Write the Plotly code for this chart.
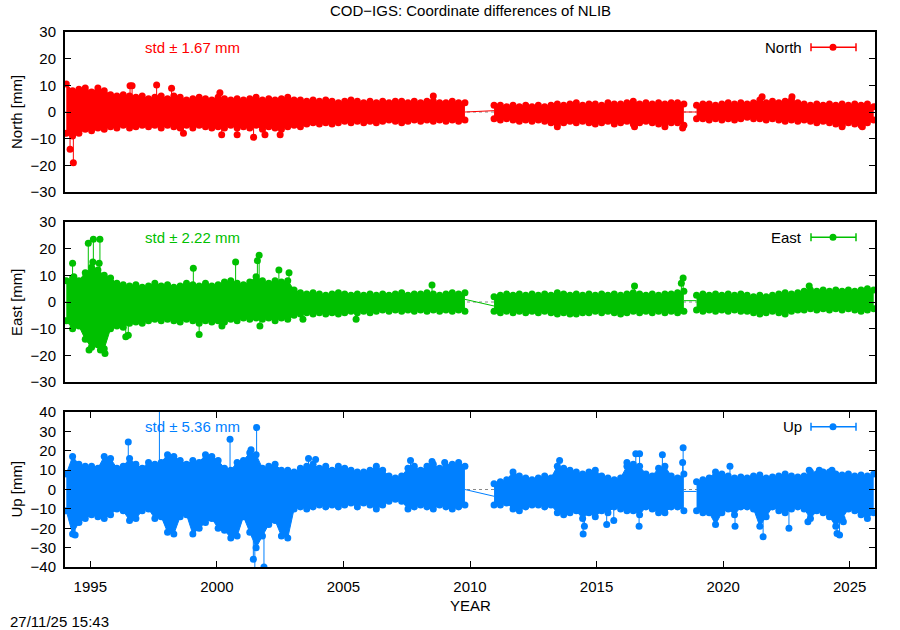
import numpy as np
import plotly.graph_objects as go

# ---------------- data ----------------
YEARS_A = [1994.05, 1994.30, 1994.55, 1994.80, 1995.05, 1995.30, 1995.55, 1995.80,
           1996.05, 1996.30, 1996.55, 1996.80, 1997.05, 1997.30, 1997.55, 1997.80,
           1998.05, 1998.30, 1998.55, 1998.80, 1999.05, 1999.30, 1999.55, 1999.80,
           2000.05, 2000.30, 2000.55, 2000.80, 2001.05, 2001.30, 2001.55, 2001.80,
           2002.05, 2002.30, 2002.55, 2002.80, 2003.05, 2003.30, 2003.55, 2003.80,
           2004.05, 2004.30, 2004.55, 2004.80, 2005.05, 2005.30, 2005.55, 2005.80,
           2006.05, 2006.30, 2006.55, 2006.80, 2007.05, 2007.30, 2007.55, 2007.80,
           2008.05, 2008.30, 2008.55, 2008.80, 2009.05, 2009.30, 2009.55, 2009.80]
YEARS_B = [2010.95, 2011.20, 2011.45, 2011.70, 2011.95, 2012.20, 2012.45, 2012.70,
           2012.95, 2013.20, 2013.45, 2013.70, 2013.95, 2014.20, 2014.45, 2014.70,
           2014.95, 2015.20, 2015.45, 2015.70, 2015.95, 2016.20, 2016.45, 2016.70,
           2016.95, 2017.20, 2017.45, 2017.70, 2017.95, 2018.20, 2018.45]
YEARS_C = [2018.95, 2019.20, 2019.45, 2019.70, 2019.95, 2020.20, 2020.45, 2020.70,
           2020.95, 2021.20, 2021.45, 2021.70, 2021.95, 2022.20, 2022.45, 2022.70,
           2022.95, 2023.20, 2023.45, 2023.70, 2023.95, 2024.20, 2024.45, 2024.70,
           2024.95, 2025.20, 2025.45, 2025.70, 2025.95]

# North [mm]: upper / lower envelope of the daily values
NORTH_HI_A = [10.5, 8, 8.5, 9, 7.5, 9, 8, 6.5, 6, 6.5, 6, 5.5, 6, 5, 5.5, 6,
              5, 6, 5.5, 4.5, 5, 5.5, 5, 4.5, 5.5, 5, 4.5, 5, 4.5, 5, 5.5, 4.5,
              5, 4.5, 5, 5.5, 4.5, 4.5, 4, 4.5, 4, 4.5, 4, 3.5, 4, 4.5, 4, 3.5,
              4, 3.5, 4, 3.5, 4, 4, 3.5, 4, 3.5, 4, 4, 3.5, 3.5, 4, 3.5, 3.5]
NORTH_LO_A = [-8, -9, -8, -6.5, -7, -6, -6.5, -5.5, -6, -5, -6, -5.5, -5, -5.5, -5, -6,
              -5, -5.5, -6, -5, -6, -5, -5.5, -6, -5.5, -6, -5, -6, -5.5, -6, -5, -6.5,
              -5.5, -6, -6.5, -5.5, -5, -5.5, -4.5, -4, -4.5, -4, -4.5, -4, -3.5, -4, -3.5, -4,
              -3.5, -4, -3.5, -3, -3.5, -4, -3.5, -3, -3.5, -3, -3.5, -3, -3.5, -3, -3.5, -3]
NORTH_HI_B = [2.5, 2.5, 2, 2.5, 2, 2.5, 2, 2.5, 2, 2.5, 3, 2.5, 3, 3.5, 2.5, 3,
              3, 2.5, 3.5, 3, 3, 3.5, 4, 3, 3.5, 3, 3.5, 3, 3.5, 3.5, 3]
NORTH_LO_B = [-2.5, -3, -2.5, -3, -3.5, -3, -3.5, -3, -3.5, -4, -4.5, -4, -3.5, -4, -3.5, -4,
              -4.5, -4, -3.5, -4.5, -4, -3.5, -4.5, -4, -3.5, -4, -4.5, -4.5, -4, -4, -5]
NORTH_HI_C = [2.5, 3, 3, 2.5, 3, 3.5, 3, 3.5, 3, 3.5, 4.5, 3.5, 4, 3.5, 4, 4.5,
              3.5, 3, 2.5, 3, 2.5, 3, 2.5, 3, 2.5, 3, 2.5, 3, 2]
NORTH_LO_C = [-2.5, -2.5, -3, -2.5, -3, -2.5, -3, -2.5, -2, -2.5, -2.5, -3, -2.5, -3, -3.5, -3,
              -3.5, -3, -3.5, -4, -3.5, -4, -4.5, -5, -4, -4.5, -5, -4, -3]
NORTH_OUT_T = [1994.20, 1994.33, 1996.57, 1996.65, 1997.62, 1998.21, 2000.12, 2008.55,
               1998.68, 2000.19, 2000.80, 2001.45, 2001.90, 2002.50,
               2013.45, 2016.50, 2017.70, 2018.40, 2021.54, 2022.72, 2024.70, 2025.50]
NORTH_OUT_V = [-14, -19, 9.8, 9.8, 10.1, 8.9, 7.2, 6,
               -8, -8.5, -8.5, -9.5, -8.5, -8.5,
               -5.5, -5.5, -5.5, -6, 5.7, 5.7, -5.5, -5.5]
NORTH_GAP_T = [[2009.80, 2010.95], [2018.45, 2018.95]]
NORTH_GAP_V = [[0, 0.5], [0, 0]]

# East [mm]
EAST_HI_A = [8, 9, 8, 11, 13, 12, 10, 9, 7, 6.5, 6, 6.5, 5.5, 6, 7, 6,
             6.5, 5.5, 6, 7, 6.5, 6, 7, 6, 6.5, 7.5, 8, 7, 6.5, 7.5, 9.5, 8,
             7, 8, 7.5, 8, 4.5, 3.5, 3, 3.5, 3, 2.5, 3, 3.5, 3, 2.5, 3, 2.5,
             3, 2.5, 3, 2.5, 3, 3.5, 2.5, 3, 3, 3.5, 3, 2.5, 3, 3.5, 3, 3.5]
EAST_LO_A = [-7, -10, -9, -14, -17, -16, -17.5, -10, -9, -9.5, -8, -7.5, -8, -7, -6.5, -7,
             -6.5, -7, -7.5, -6.5, -7, -8, -7, -7.5, -7, -7.5, -6.5, -7, -6, -6.5, -6, -6.5,
             -6, -7, -6, -6.5, -5, -4.5, -4, -4.5, -4, -4.5, -4, -4.5, -4, -3.5, -4, -3.5,
             -4, -3.5, -3, -3.5, -3, -3.5, -3, -3.5, -3, -3.5, -3, -3.5, -3, -3.5, -3, -3.5]
EAST_HI_B = [2, 2.5, 3, 2.5, 3, 2.5, 3, 2.5, 3, 2.5, 3.5, 3, 2.5, 3, 2.5, 3,
             2.5, 3, 2.5, 3, 2.5, 3, 3.5, 3, 2.5, 3, 2.5, 3, 3, 3.5, 4]
EAST_LO_B = [-3.5, -4, -3.5, -4, -3.5, -4, -3.5, -4, -3.5, -4, -4.5, -4, -4.5, -4.5, -4, -4,
             -3.5, -4, -3.5, -4, -4.5, -4, -3.5, -4, -3.5, -4, -3.5, -4, -3.5, -4, -3.5]
EAST_HI_C = [2.5, 3, 2.5, 3, 2.5, 3, 2.5, 3, 2.5, 2, 2.5, 2, 2.5, 3, 3.5, 3,
             3.5, 4, 4.5, 4, 4.5, 4, 4.5, 4, 4.5, 4, 4.5, 5, 4.5]
EAST_LO_C = [-3, -3.5, -3, -3.5, -3, -3.5, -3, -3.5, -3.5, -4, -4.5, -4, -3.5, -4, -4.5, -3.5,
             -3, -3, -2.5, -3, -2.5, -3, -2.5, -3, -2.5, -3, -3.5, -3, -2.5]
EAST_OUT_T = [1994.30, 1994.35, 1994.92, 1995.12, 1995.38, 1995.10, 1995.35, 1999.07,
              2000.74, 2001.60, 2001.67, 2002.45, 2002.85,
              1994.95, 1995.40, 1995.58, 1996.40, 1996.50, 1999.30, 2000.20, 2001.70,
              2003.40, 2005.50, 2008.50, 2016.50, 2018.35, 2018.42, 2023.40]
EAST_OUT_V = [14.5, 9.5, 22, 23.5, 23.5, 15, 14.5, 12.7,
              15, 15.5, 17.5, 12, 11,
              -18, -18, -19.3, -13, -12.5, -12.2, -9, -9,
              -6.5, -6.5, 6.4, 6, 7, 9, 6]
EAST_GAP_T = [[2009.80, 2010.95], [2018.45, 2018.95]]
EAST_GAP_V = [[1, -1.5], [0.5, 0.5]]

# Up [mm]
UP_HI_A = [8, 17, 13, 12, 12, 11, 17, 16, 11, 12, 16, 13, 11, 14, 13, 14,
           18, 17, 15, 13, 15, 14, 18, 17, 15, 11, 10, 14, 15, 19, 18, 11,
           12, 13, 10, 10, 9, 11, 12, 13, 11, 12, 10, 12, 11, 10, 9, 9,
           10, 12, 10, 7, 6, 7, 11, 12, 10, 12, 13, 11, 12, 13, 14, 12]
UP_LO_A = [-11, -23, -17, -15, -13, -14, -15, -13, -10, -11, -16, -15, -11, -10, -15, -14,
           -22, -23, -14, -13, -23, -20, -17, -15, -20, -21, -25, -24, -14, -22, -30, -24,
           -18, -16, -24, -25, -10, -9, -10, -9, -8, -9, -8, -9, -8, -7, -9, -7,
           -8, -10, -8, -6, -5, -6, -10, -9, -8, -9, -10, -8, -9, -10, -9, -8]
UP_HI_B = [3, 4, 5, 9, 7, 6, 5, 6, 7, 6, 12, 11, 10, 9, 8, 9,
           10, 7, 6, 5, 6, 12, 13, 12, 8, 7, 11, 12, 7, 6, 8]
UP_LO_B = [-8, -8, -7, -10, -11, -9, -8, -8, -9, -8, -12, -13, -12, -11, -15, -12,
           -14, -11, -12, -9, -10, -11, -11, -13, -9, -10, -12, -12, -9, -9, -11]
UP_HI_C = [4, 5, 6, 9, 8, 7, 6, 6.5, 6, 7, 7.5, 6, 6.5, 7, 8, 7,
           6.5, 7, 9, 8, 9, 9, 8, 7.5, 8, 7, 7.5, 7, 8]
UP_LO_C = [-11, -12, -12, -18, -12, -10, -13, -9, -9, -10, -19, -14, -9, -11, -12, -10,
           -9, -10, -15, -11, -12, -14, -19, -15, -10, -11, -13, -15, -12]
UP_OUT_T = [1996.50, 1997.73, 2000.52, 2001.57, 2001.35, 2003.62, 2003.90, 2007.65, 2008.50, 2009.00,
            1994.40, 2001.44, 2001.50, 2001.86,
            2013.54, 2016.20, 2016.55, 2016.70, 2017.60, 2018.42, 2018.40,
            2014.47, 2014.52, 2015.40, 2015.68, 2016.68,
            2020.27, 2023.40, 2023.80, 2024.30,
            2020.47, 2021.58, 2022.60, 2023.35, 2024.50, 2024.60, 2024.75]
UP_OUT_V = [24.5, 48, 26, 32, 20.5, 16, 15.5, 15, 14.5, 14,
            -23.5, -36, -45, -40,
            15, 14, 18.5, 18.5, 18, 21.5, 14,
            -23, -19, -18, -16, -19,
            12, 10, 10, 10,
            -19, -24.4, -20, -16.6, -22.7, -23.5, -16.6]
UP_GAP_T = [[2009.80, 2010.95], [2018.45, 2018.95]]
UP_GAP_V = [[0, -3.5], [-1, -1]]

SERIES = ["North", "East", "Up"]
STD_TEXT = ["std \u00b1 1.67 mm", "std \u00b1 2.22 mm", "std \u00b1 5.36 mm"]
X_TICKS = [1995, 2000, 2005, 2010, 2015, 2020, 2025]
Y_TICKS_NE = [-30, -20, -10, 0, 10, 20, 30]
Y_TICKS_UP = [-40, -30, -20, -10, 0, 10, 20, 30, 40]

# ---------------- figure ----------------
COLORS = ["#ff0000", "#00c000", "#0080ff"]
FONT = "Liberation Sans, Arial, Helvetica, sans-serif"
FS = 15

data = [
    dict(hi=[NORTH_HI_A, NORTH_HI_B, NORTH_HI_C], lo=[NORTH_LO_A, NORTH_LO_B, NORTH_LO_C],
         ot=NORTH_OUT_T, ov=NORTH_OUT_V, gt=NORTH_GAP_T, gv=NORTH_GAP_V, ticks=Y_TICKS_NE),
    dict(hi=[EAST_HI_A, EAST_HI_B, EAST_HI_C], lo=[EAST_LO_A, EAST_LO_B, EAST_LO_C],
         ot=EAST_OUT_T, ov=EAST_OUT_V, gt=EAST_GAP_T, gv=EAST_GAP_V, ticks=Y_TICKS_NE),
    dict(hi=[UP_HI_A, UP_HI_B, UP_HI_C], lo=[UP_LO_A, UP_LO_B, UP_LO_C],
         ot=UP_OUT_T, ov=UP_OUT_V, gt=UP_GAP_T, gv=UP_GAP_V, ticks=Y_TICKS_UP),
]
years = [YEARS_A, YEARS_B, YEARS_C]

# plot-area geometry (pixels)
W, H = 900, 630
L, R, T, B = 65, 25, 32, 63
ph = H - T - B
panel_px = [(32, 192), (222, 382), (412, 567)]
domains = [[(H - B - b) / ph, (H - B - t) / ph] for (t, b) in panel_px]

fig = go.Figure()
for i, (name, col, d) in enumerate(zip(SERIES, COLORS, data)):
    xa = "x" if i == 0 else f"x{i+1}"
    ya = "y" if i == 0 else f"y{i+1}"
    all_t = np.concatenate([np.array(y) for y in years])
    all_hi = np.concatenate([np.array(h) for h in d["hi"]])
    all_lo = np.concatenate([np.array(l) for l in d["lo"]])

    # gap connectors
    for gt, gv in zip(d["gt"], d["gv"]):
        fig.add_trace(go.Scatter(x=gt, y=gv, mode="lines", line=dict(color=col, width=1),
                                 xaxis=xa, yaxis=ya, showlegend=False, hoverinfo="skip"))
    # outlier spikes
    sx, sy = [], []
    for t, v in zip(d["ot"], d["ov"]):
        base = np.interp(t, all_t, all_hi if v > 0 else all_lo)
        sx += [t, t, None]
        sy += [base, v, None]
    fig.add_trace(go.Scatter(x=sx, y=sy, mode="lines", line=dict(color=col, width=1),
                             xaxis=xa, yaxis=ya, showlegend=False, hoverinfo="skip"))
    fig.add_trace(go.Scatter(x=d["ot"], y=d["ov"], mode="markers",
                             marker=dict(color=col, size=7, symbol="circle"),
                             xaxis=xa, yaxis=ya, showlegend=False, hoverinfo="skip"))
    # dense band of daily solutions
    for yrs, lo, hi in zip(years, d["lo"], d["hi"]):
        fig.add_trace(go.Scatter(x=yrs, y=lo, mode="lines+markers",
                                 line=dict(color=col, width=1), marker=dict(color=col, size=7),
                                 xaxis=xa, yaxis=ya, showlegend=False, hoverinfo="skip"))
        fig.add_trace(go.Scatter(x=yrs, y=hi, mode="lines+markers", fill="tonexty",
                                 fillcolor=col,
                                 line=dict(color=col, width=1), marker=dict(color=col, size=7),
                                 xaxis=xa, yaxis=ya, showlegend=False, hoverinfo="skip"))

    # zero reference line (dotted, below data)
    fig.add_shape(type="line", xref=f"{xa} domain", yref=ya, x0=0, x1=1, y0=0, y1=0,
                  line=dict(color="#888888", width=1, dash="dot"), layer="below")

    # axes
    yt = d["ticks"]
    axy = dict(domain=domains[i], range=[yt[0], yt[-1]], tickvals=yt, ticks="inside",
               ticklen=6, tickcolor="#000000", showline=True, linecolor="#000000",
               linewidth=2, mirror="ticks", showgrid=False, zeroline=False,
               tickfont=dict(family=FONT, size=FS, color="#000000"),
               anchor=xa, ticklabelstandoff=4)
    axx = dict(domain=[0, 1], range=[1994, 2026], showline=True, linecolor="#000000",
               linewidth=2, mirror=True, showgrid=False, zeroline=False, anchor=ya,
               tickfont=dict(family=FONT, size=FS, color="#000000"))
    if i == 2:
        axx.update(tickvals=X_TICKS, ticks="inside", ticklen=6, tickcolor="#000000",
                   mirror="ticks", ticklabelstandoff=5)
    else:
        axx.update(showticklabels=False, ticks="")
    fig.layout["yaxis" if i == 0 else f"yaxis{i+1}"] = axy
    fig.layout["xaxis" if i == 0 else f"xaxis{i+1}"] = axx

    # std text and legend sample
    ly = 0.905
    fig.add_annotation(xref=f"{xa} domain", yref=f"{ya} domain", x=0.157, y=ly,
                       text=STD_TEXT[i], showarrow=False, xanchor="center", yanchor="middle",
                       font=dict(family=FONT, size=FS, color=col))
    fig.add_annotation(xref=f"{xa} domain", yref=f"{ya} domain", x=(804 - L) / 810, y=ly,
                       text=name, showarrow=False, xanchor="right", yanchor="middle",
                       font=dict(family=FONT, size=FS, color="#000000"))
    x0, x1, xm = (811 - L) / 810, (856 - L) / 810, (833 - L) / 810
    fig.add_shape(type="line", xref=f"{xa} domain", yref=f"{ya} domain",
                  x0=x0, x1=x1, y0=ly, y1=ly, line=dict(color=col, width=1.5))
    for xc in (x0, x1):
        fig.add_shape(type="line", xref=f"{xa} domain", yref=f"{ya} domain",
                      xsizemode="pixel", ysizemode="pixel", xanchor=xc, yanchor=ly,
                      x0=0, x1=0, y0=-4, y1=4, line=dict(color=col, width=1.5))
    fig.add_shape(type="circle", xref=f"{xa} domain", yref=f"{ya} domain",
                  xsizemode="pixel", ysizemode="pixel", xanchor=xm, yanchor=ly,
                  x0=-3.5, x1=3.5, y0=-3.5, y1=3.5, fillcolor=col, line=dict(color=col, width=0))

    # y axis title
    pc = (panel_px[i][0] + panel_px[i][1]) / 2
    fig.add_annotation(xref="paper", yref="paper", x=(16 - L) / 810, y=(H - B - pc) / ph,
                       text=f"{name} [mm]", textangle=-90, showarrow=False,
                       xanchor="center", yanchor="middle",
                       font=dict(family=FONT, size=FS, color="#000000"))

# title, x-axis label, time stamp
fig.add_annotation(xref="paper", yref="paper", x=0.5, y=(H - B - 11) / ph,
                   text="COD\u2212IGS: Coordinate differences of NLIB", showarrow=False,
                   xanchor="center", yanchor="middle",
                   font=dict(family=FONT, size=FS, color="#000000"))
fig.add_annotation(xref="paper", yref="paper", x=0.5, y=(H - B - 605) / ph,
                   text="YEAR", showarrow=False, xanchor="center", yanchor="middle",
                   font=dict(family=FONT, size=FS, color="#000000"))
fig.add_annotation(xref="paper", yref="paper", x=(8 - L) / 810, y=(H - B - 621) / ph,
                   text="27/11/25 15:43", showarrow=False, xanchor="left", yanchor="middle",
                   font=dict(family=FONT, size=FS, color="#000000"))

fig.update_layout(width=W, height=H, margin=dict(l=L, r=R, t=T, b=B, autoexpand=False),
                  paper_bgcolor="#ffffff", plot_bgcolor="#ffffff", showlegend=False,
                  font=dict(family=FONT, size=FS, color="#000000"))

fig.write_html("out.html", config={"displayModeBar": False},
               post_script="document.body.style.margin='0';document.body.style.padding='0';")
